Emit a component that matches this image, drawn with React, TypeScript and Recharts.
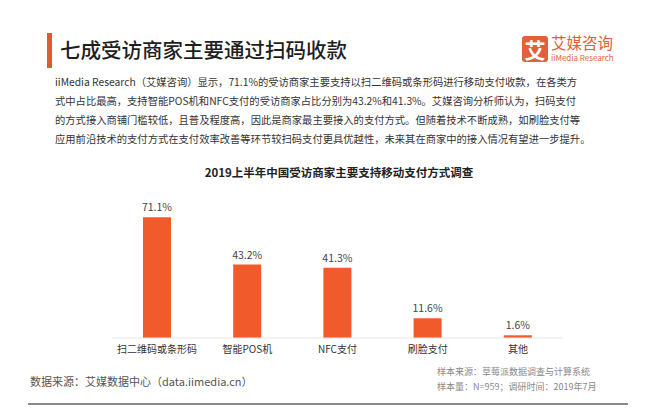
import React from "react";
import { BarChart, Bar, XAxis, YAxis, LabelList } from "recharts";

const categories = ["扫二维码或条形码", "智能POS机", "NFC支付", "刷脸支付", "其他"];
const shares = [71.1, 43.2, 41.3, 11.6, 1.6];

const paragraphLines = [
  "iiMedia Research（艾媒咨询）显示，71.1%的受访商家主要支持以扫二维码或条形码进行移动支付收款，在各类方",
  "式中占比最高，支持智能POS机和NFC支付的受访商家占比分别为43.2%和41.3%。艾媒咨询分析师认为，扫码支付",
  "的方式接入商铺门槛较低，且普及程度高，因此是商家最主要接入的支付方式。但随着技术不断成熟，如刷脸支付等",
  "应用前沿技术的支付方式在支付效率改善等环节较扫码支付更具优越性，未来其在商家中的接入情况有望进一步提升。",
];

const data = categories.map((name, i) => ({ name, value: shares[i] }));

const FONT = '"Noto Sans CJK SC", "Noto Sans", sans-serif';
const ORANGE = "#F15A2B";

export default function App() {
  return (
    <div
      style={{
        position: "absolute",
        left: 0,
        top: 0,
        width: 654,
        height: 414,
        background: "#fff",
        fontFamily: FONT,
        overflow: "hidden",
      }}
    >
      {/* heading */}
      <div style={{ position: "absolute", left: 47, top: 33, width: 5, height: 35, background: "#E05A2C" }} />
      <div
        style={{
          position: "absolute",
          left: 60,
          top: 35,
          fontSize: 20.5,
          fontWeight: 500,
          color: "#1e1e1e",
          lineHeight: "28px",
          whiteSpace: "nowrap",
        }}
      >
        七成受访商家主要通过扫码收款
      </div>

      {/* logo */}
      <div
        style={{
          position: "absolute",
          left: 522,
          top: 36,
          width: 26,
          height: 26,
          background: "#E2603A",
          borderRadius: 3,
          color: "#fff",
          fontSize: 21,
          fontWeight: 700,
          lineHeight: "26px",
          textAlign: "center",
        }}
      >
        艾
      </div>
      <div style={{ position: "absolute", left: 551, top: 34, fontSize: 15.5, color: "#E2603A", lineHeight: "16px", whiteSpace: "nowrap" }}>
        艾媒咨询
      </div>
      <div style={{ position: "absolute", left: 551, top: 53, fontSize: 8, color: "#E2603A", lineHeight: "9px", whiteSpace: "nowrap" }}>
        iiMedia Research
      </div>

      {/* paragraph */}
      {paragraphLines.map((line, i) => (
        <div
          key={i}
          style={{
            position: "absolute",
            left: 55,
            top: 74 + i * 19,
            width: 510,
            fontSize: 10.3,
            color: "#333",
            lineHeight: "16px",
            whiteSpace: "nowrap",
            textAlign: "justify",
            textAlignLast: "justify",
          }}
        >
          {line}
        </div>
      ))}

      {/* chart title */}
      <div
        style={{
          position: "absolute",
          left: 0,
          top: 164,
          width: 678,
          textAlign: "center",
          fontSize: 11.5,
          fontWeight: 700,
          color: "#222",
          lineHeight: "16px",
        }}
      >
        2019上半年中国受访商家主要支持移动支付方式调查
      </div>

      <div style={{ position: "absolute", left: 0, top: 0 }}>
        <BarChart
          width={654}
          height={414}
          data={data}
          margin={{ top: 202, right: 91, left: 112, bottom: 46 }}
          barCategoryGap={31}
        >
          <YAxis hide domain={[0, 80]} />
          <XAxis
            dataKey="name"
            tickLine={false}
            axisLine={{ stroke: "#e6e6e6" }}
            tick={{ fill: "#333", fontSize: 10, fontFamily: FONT }}
            interval={0}
          />
          <Bar dataKey="value" fill={ORANGE} isAnimationActive={false}>
            <LabelList
              dataKey="value"
              position="top"
              offset={6}
              formatter={(v: number) => `${v}%`}
              style={{ fill: "#444", fontSize: 10.5, fontFamily: FONT }}
            />
          </Bar>
        </BarChart>
      </div>

      {/* footer */}
      <div style={{ position: "absolute", left: 30, top: 373, fontSize: 11, color: "#555", lineHeight: "16px", whiteSpace: "nowrap" }}>
        数据来源：艾媒数据中心（data.iimedia.cn）
      </div>
      <div style={{ position: "absolute", left: 437, top: 365, fontSize: 9, color: "#888", lineHeight: "14px", whiteSpace: "nowrap" }}>
        样本来源：草莓派数据调查与计算系统
      </div>
      <div style={{ position: "absolute", left: 437, top: 380, fontSize: 9, color: "#888", lineHeight: "14px", whiteSpace: "nowrap" }}>
        样本量：N=959；调研时间：2019年7月
      </div>
      <div style={{ position: "absolute", left: 28, top: 403, width: 600, height: 1.5, background: "#8a8a8a" }} />
    </div>
  );
}
